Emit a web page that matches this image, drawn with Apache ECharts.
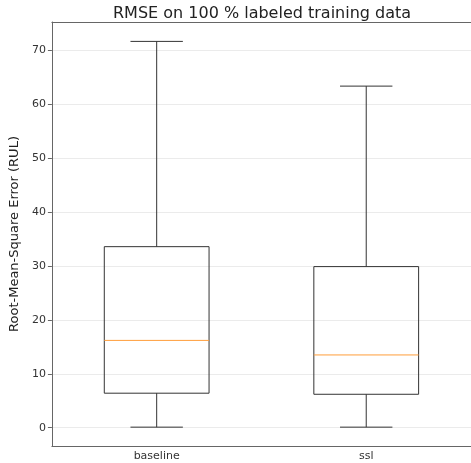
<!DOCTYPE html>
<html lang="en">
<head>
    <meta charset="UTF-8">
    <title>RMSE boxplot</title>
    <script src="https://cdn.jsdelivr.net/npm/echarts@6/dist/echarts.min.js"></script>
    <style>
        body { margin: 0; background: #fff; }
    </style>
</head>
<body>
    <div id="main" style="width: 471px;height:463px;"></div>

    <script>
        // box statistics
        var categories = ['baseline', 'ssl'];
        var whiskerLow = [0.1, 0.1];
        var q1 = [6.4, 6.2];
        var median = [16.2, 13.5];
        var q3 = [33.6, 29.9];
        var whiskerHigh = [71.7, 63.4];

        var boxData = [];
        for (var i = 0; i < categories.length; i++) {
            boxData.push([i, whiskerLow[i], q1[i], median[i], q3[i], whiskerHigh[i]]);
        }

        var font = 'DejaVu Sans';

        function renderBox(params, api) {
            var idx = api.value(0);
            var band = api.size([1, 0])[0];
            var x = api.coord([idx, 0])[0];
            var yLow = api.coord([idx, api.value(1)])[1];
            var yQ1 = api.coord([idx, api.value(2)])[1];
            var yMed = api.coord([idx, api.value(3)])[1];
            var yQ3 = api.coord([idx, api.value(4)])[1];
            var yHigh = api.coord([idx, api.value(5)])[1];
            var hw = band * 0.25;
            var cw = band * 0.125;
            var line = { stroke: '#333', lineWidth: 1 };
            return {
                type: 'group',
                children: [
                    { type: 'line', shape: { x1: x, y1: yQ1, x2: x, y2: yLow }, style: line },
                    { type: 'line', shape: { x1: x, y1: yQ3, x2: x, y2: yHigh }, style: line },
                    { type: 'line', shape: { x1: x - cw, y1: yLow, x2: x + cw, y2: yLow }, style: line },
                    { type: 'line', shape: { x1: x - cw, y1: yHigh, x2: x + cw, y2: yHigh }, style: line },
                    { type: 'rect', shape: { x: x - hw, y: yQ3, width: hw * 2, height: yQ1 - yQ3 }, style: { stroke: '#333', lineWidth: 1, fill: 'none' } },
                    { type: 'line', shape: { x1: x - hw, y1: yMed, x2: x + hw, y2: yMed }, style: { stroke: '#ff9d3a', lineWidth: 1 } }
                ]
            };
        }

        var myChart = echarts.init(document.getElementById('main'));

        var option = {
            animation: false,
            title: {
                text: 'RMSE on 100 % labeled training data',
                left: 108,
                top: 1,
                textStyle: { fontFamily: font, fontSize: 16, fontWeight: 'normal', color: '#222' }
            },
            grid: {
                left: 51,
                right: 0,
                top: 22,
                bottom: 17
            },
            xAxis: [{
                type: 'category',
                data: categories,
                axisLine: { onZero: false, lineStyle: { color: '#666' } },
                axisTick: { alignWithLabel: true, length: 4, lineStyle: { color: '#666' } },
                axisLabel: { fontFamily: font, fontSize: 11, color: '#333', margin: 5 },
                splitLine: { show: false }
            }, {
                // top frame line only (the right side of the frame is off the picture)
                type: 'category',
                data: categories,
                position: 'top',
                axisLine: { onZero: false, lineStyle: { color: '#666' } },
                axisTick: { show: false },
                axisLabel: { show: false },
                splitLine: { show: false }
            }],
            yAxis: {
                type: 'value',
                min: -3.4,
                max: 75.3,
                splitNumber: 8,
                name: 'Root-Mean-Square Error (RUL)',
                nameLocation: 'middle',
                nameGap: 22,
                nameTextStyle: { fontFamily: font, fontSize: 13, color: '#222' },
                axisLine: { show: true, lineStyle: { color: '#666' } },
                axisTick: { show: true, length: 4, lineStyle: { color: '#666' } },
                axisLabel: {
                    fontFamily: font, fontSize: 11, color: '#333', margin: 6,
                    showMinLabel: false, showMaxLabel: false,
                    formatter: function (v) { return (v % 10 === 0) ? String(v) : ''; }
                },
                splitLine: { show: true, lineStyle: { color: '#ebebeb' } }
            },
            series: [{
                type: 'custom',
                renderItem: renderBox,
                data: boxData,
                encode: { x: 0, y: [1, 2, 3, 4, 5] }
            }]
        };

        myChart.setOption(option);
    </script>
</body>
</html>
